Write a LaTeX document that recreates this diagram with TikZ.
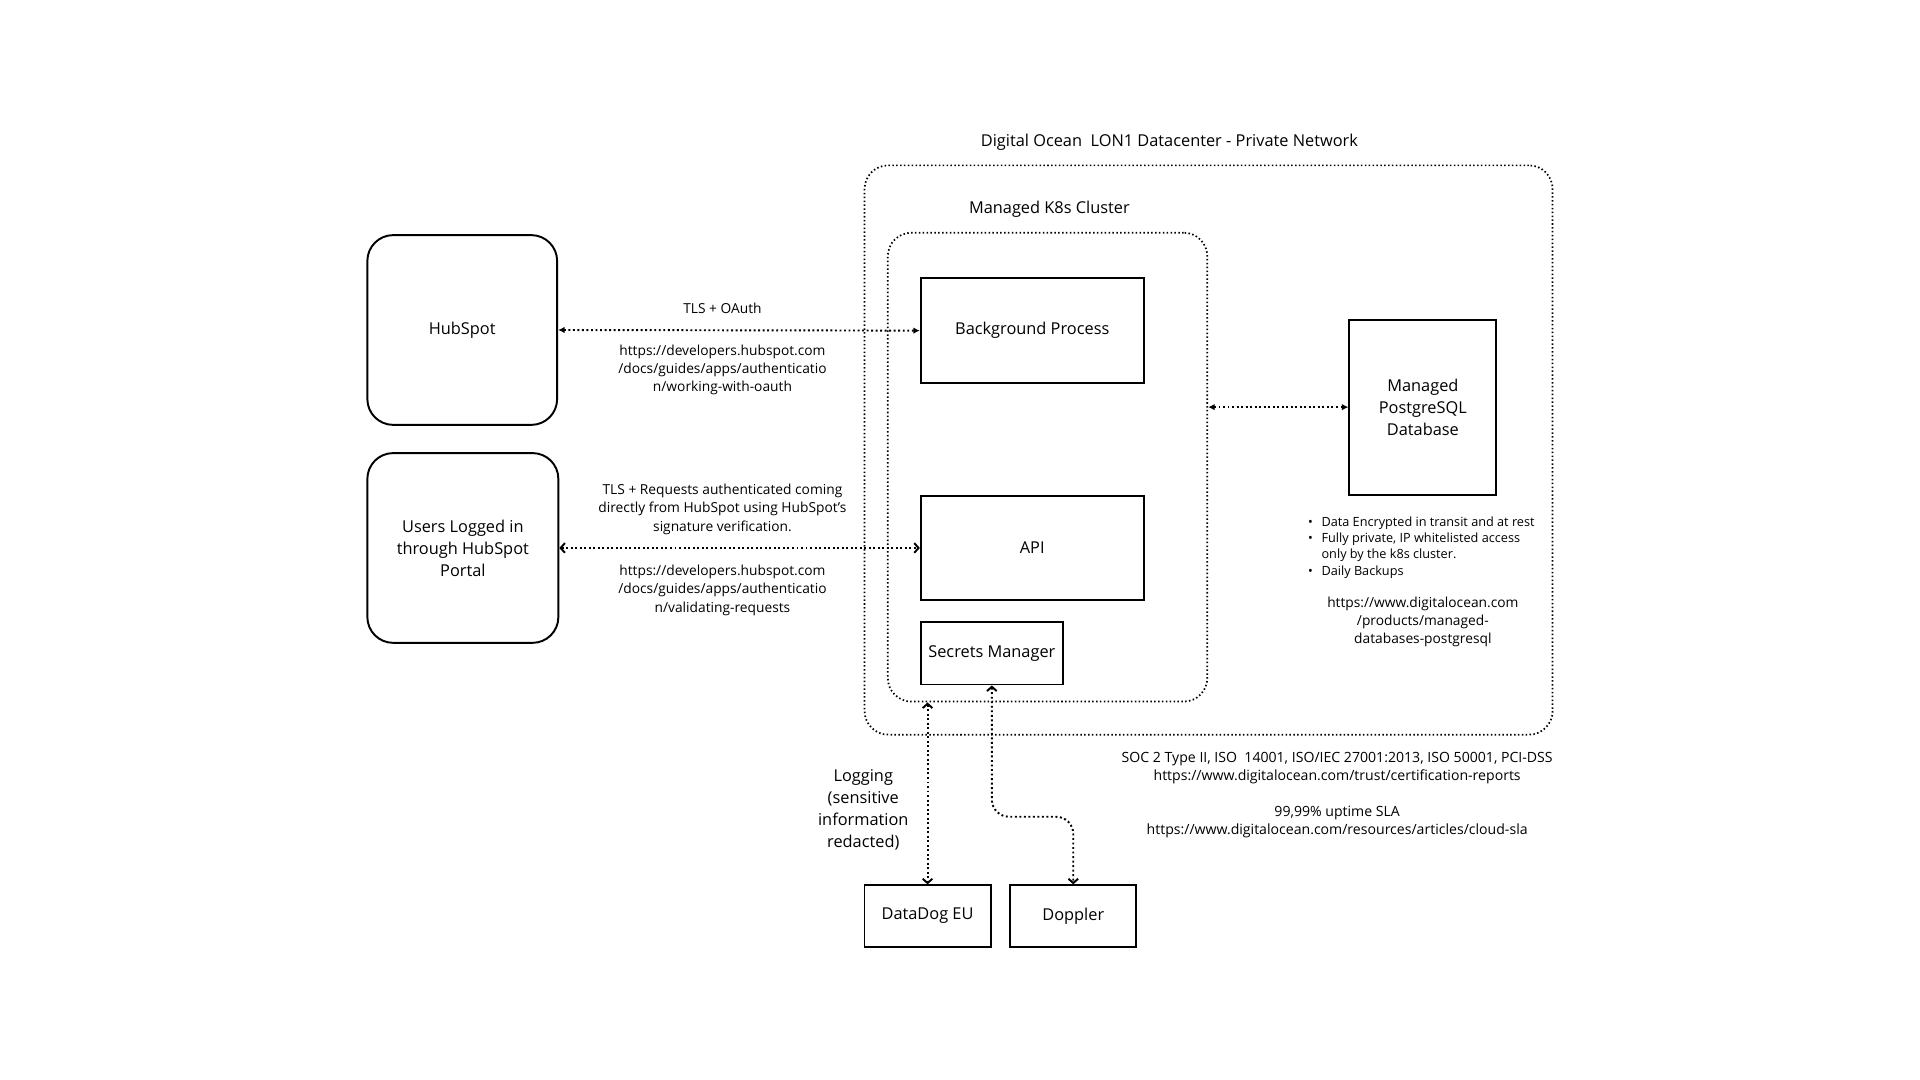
\documentclass[tikz,border=0pt]{standalone}
\usepackage{fontspec}
\setmainfont{Open Sans}
\usetikzlibrary{arrows.meta}
\tikzset{
  solidbox/.style={draw, line width=0.9pt, align=center, inner sep=0pt, font=\fontsize{7.6}{10.2}\selectfont},
  portalbox/.style={solidbox, rounded corners=12pt},
  zone/.style={draw, line width=0.8pt, dash pattern=on 0.7pt off 1.1pt, rounded corners=11pt, inner sep=0pt},
  link/.style={line width=0.9pt, dash pattern=on 0.9pt off 1.2pt, {Latex[length=3pt,width=3pt]}-{Latex[length=3pt,width=3pt]}},
  barblink/.style={line width=0.9pt, dash pattern=on 0.9pt off 1.2pt, {Straight Barb[length=2pt,width=4.5pt]}-{Straight Barb[length=2pt,width=4.5pt]}},
  maintext/.style={align=center, inner sep=0pt, font=\fontsize{7.6}{10.2}\selectfont},
  smalltext/.style={align=center, inner sep=0pt, font=\fontsize{6.4}{8.5}\selectfont},
}
\begin{document}
\begin{tikzpicture}[x=0.02cm, y=-0.02cm]
  \useasboundingbox (0,0) rectangle (1568,882);

  % zones
  \node[zone, minimum width=11.24cm, minimum height=9.3cm] (dc) at (987,367.5) {};
  \node[maintext] (dclabel) at (955,116) {Digital Ocean\ \ LON1 Datacenter - Private Network};
  \node[zone, minimum width=5.22cm, minimum height=7.66cm] (k8s) at (855.5,381.5) {};
  \node[maintext] (k8slabel) at (857,171) {Managed K8s Cluster};

  % outside
  \node[portalbox, minimum width=3.1cm, minimum height=3.1cm] (hub) at (377.5,269.5) {HubSpot};
  \node[portalbox, minimum width=3.12cm, minimum height=3.1cm] (users) at (378,447.5) {Users Logged in\\through HubSpot\\Portal};

  % services
  \node[solidbox, minimum width=3.64cm, minimum height=1.72cm] (bg) at (843,270) {Background Process};
  \node[solidbox, minimum width=3.64cm, minimum height=1.7cm] (api) at (843,447.5) {API};
  \node[solidbox, minimum width=2.32cm, minimum height=1.02cm] (sm) at (810,533.5) {Secrets Manager};
  \node[solidbox, minimum width=2.4cm, minimum height=2.86cm] (pg) at (1162,332.5) {Managed\\PostgreSQL\\Database};
  \node[solidbox, minimum width=2.06cm, minimum height=1cm] (dd) at (757.5,748) {DataDog EU};
  \node[solidbox, minimum width=2.06cm, minimum height=1cm] (dop) at (876.5,748) {Doppler};

  % connectors
  \draw[link] (hub.east) -- (bg.west);
  \draw[barblink] (users.east) -- (api.west);
  \draw[link] (k8s.east |- pg.west) -- (pg.west);
  \draw[barblink] (dd.north |- k8s.south) -- (dd.north);
  \coordinate (dopbend) at (843,667);
  \draw[barblink, rounded corners=8pt] (sm.south) |- (dopbend) -| (dop.north);

  % labels
  \node[smalltext] (oauth) at (590,252) {TLS + OAuth};
  \node[smalltext] (oauthurl) at (590,302) {https://developers.hubspot.com\\/docs/guides/apps/authenticatio\\n/working-with-oauth};
  \node[smalltext] (sig) at (590,416) {TLS + Requests authenticated coming\\directly from HubSpot using HubSpot’s\\signature verification.};
  \node[smalltext] (sigurl) at (590,482) {https://developers.hubspot.com\\/docs/guides/apps/authenticatio\\n/validating-requests};
  \node[anchor=west, inner sep=0pt, font=\fontsize{5.9}{7.6}\selectfont] (pgnotes) at (1068,447)
    {\begin{tabular}{@{}l@{\hspace{4pt}}l@{}}
      \textbullet & Data Encrypted in transit and at rest\\
      \textbullet & Fully private, IP whitelisted access\\
                  & only by the k8s cluster.\\
      \textbullet & Daily Backups
    \end{tabular}};
  \node[smalltext] (pgurl) at (1162,508) {https://www.digitalocean.com\\/products/managed-\\databases-postgresql};
  \node[smalltext, font=\fontsize{6.55}{8.5}\selectfont] (certs) at (1092,627.5) {SOC 2 Type II, ISO\ \ 14001, ISO/IEC 27001:2013, ISO 50001, PCI-DSS\\https://www.digitalocean.com/trust/certification-reports};
  \node[smalltext, font=\fontsize{6.55}{8.5}\selectfont] (sla) at (1092,671.5) {99,99\% uptime SLA\\https://www.digitalocean.com/resources/articles/cloud-sla};
  \node[maintext] (logging) at (705,661) {Logging\\(sensitive\\information\\redacted)};
\end{tikzpicture}
\end{document}
